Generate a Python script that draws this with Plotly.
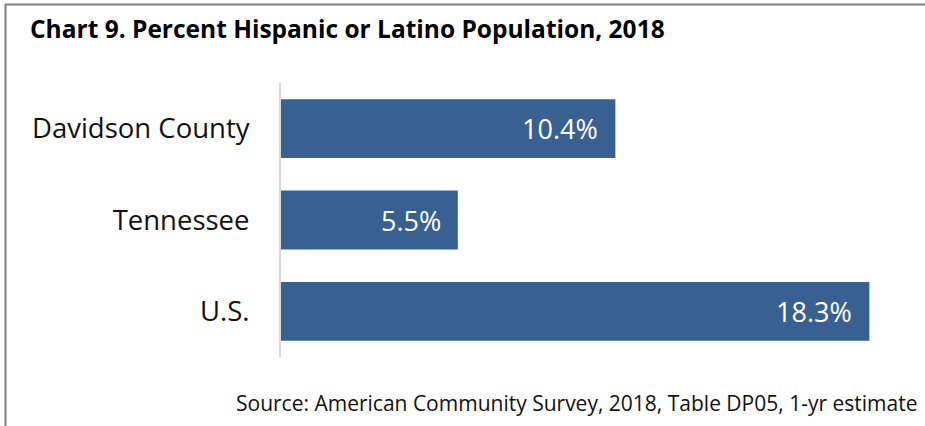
import plotly.graph_objects as go

# Data
categories = ["Davidson County", "Tennessee", "U.S."]
percent_hispanic = [10.4, 5.5, 18.3]
value_labels = ["10.4%", "5.5%", "18.3%"]

W, H = 925, 426
FONT = "Open Sans"
BAR_COLOR = "#386192"


def px_x(x):
    return x / W


def px_y(y):
    return 1 - y / H


fig = go.Figure(
    go.Bar(
        x=percent_hispanic,
        y=categories,
        orientation="h",
        width=0.645,
        marker=dict(color=BAR_COLOR, line=dict(width=0)),
        hoverinfo="skip",
    )
)

# value labels sit inside the bar end
value_annotations = [
    dict(text=lbl, x=v, y=cat, xref="x", yref="y",
         xanchor="right", yanchor="middle", xshift=-15, showarrow=False,
         font=dict(family=FONT, size=27, color="white"))
    for cat, v, lbl in zip(categories, percent_hispanic, value_labels)
]

fig.update_layout(
    width=W,
    height=H,
    margin=dict(l=0, r=0, t=0, b=0),
    paper_bgcolor="white",
    plot_bgcolor="white",
    showlegend=False,
    font=dict(family=FONT, color="#111111"),
    xaxis=dict(
        domain=[px_x(281), px_x(924)],
        range=[0, 20],
        showgrid=False,
        zeroline=False,
        showticklabels=False,
        showline=False,
        fixedrange=True,
    ),
    yaxis=dict(
        domain=[px_y(357), px_y(83)],
        autorange="reversed",
        showgrid=False,
        zeroline=False,
        showline=True,
        linecolor="#d9d9d9",
        linewidth=2,
        ticks="",
        ticklabelstandoff=24,
        tickfont=dict(family=FONT, size=27.5, color="#111111"),
        fixedrange=True,
    ),
    shapes=[
        # outer frame: top and left edges
        dict(type="line", xref="paper", yref="paper",
             x0=px_x(5), x1=1, y0=px_y(4.5), y1=px_y(4.5),
             line=dict(color="#7f7f7f", width=2)),
        dict(type="line", xref="paper", yref="paper",
             x0=px_x(5.5), x1=px_x(5.5), y0=px_y(4), y1=0,
             line=dict(color="#7f7f7f", width=2)),
    ],
    annotations=[
        dict(text="<b>Chart 9. Percent Hispanic or Latino Population, 2018</b>",
             xref="paper", yref="paper", x=px_x(28), y=px_y(28),
             xanchor="left", yanchor="middle", showarrow=False,
             font=dict(family=FONT, size=24.5, color="#000000")),
        dict(text="Source: American Community Survey, 2018, Table DP05, 1-yr estimate",
             xref="paper", yref="paper", x=px_x(919), y=px_y(403),
             xanchor="right", yanchor="middle", showarrow=False,
             font=dict(family=FONT, size=21, color="#111111")),
    ] + value_annotations,
)

fig.write_html("out.html")
